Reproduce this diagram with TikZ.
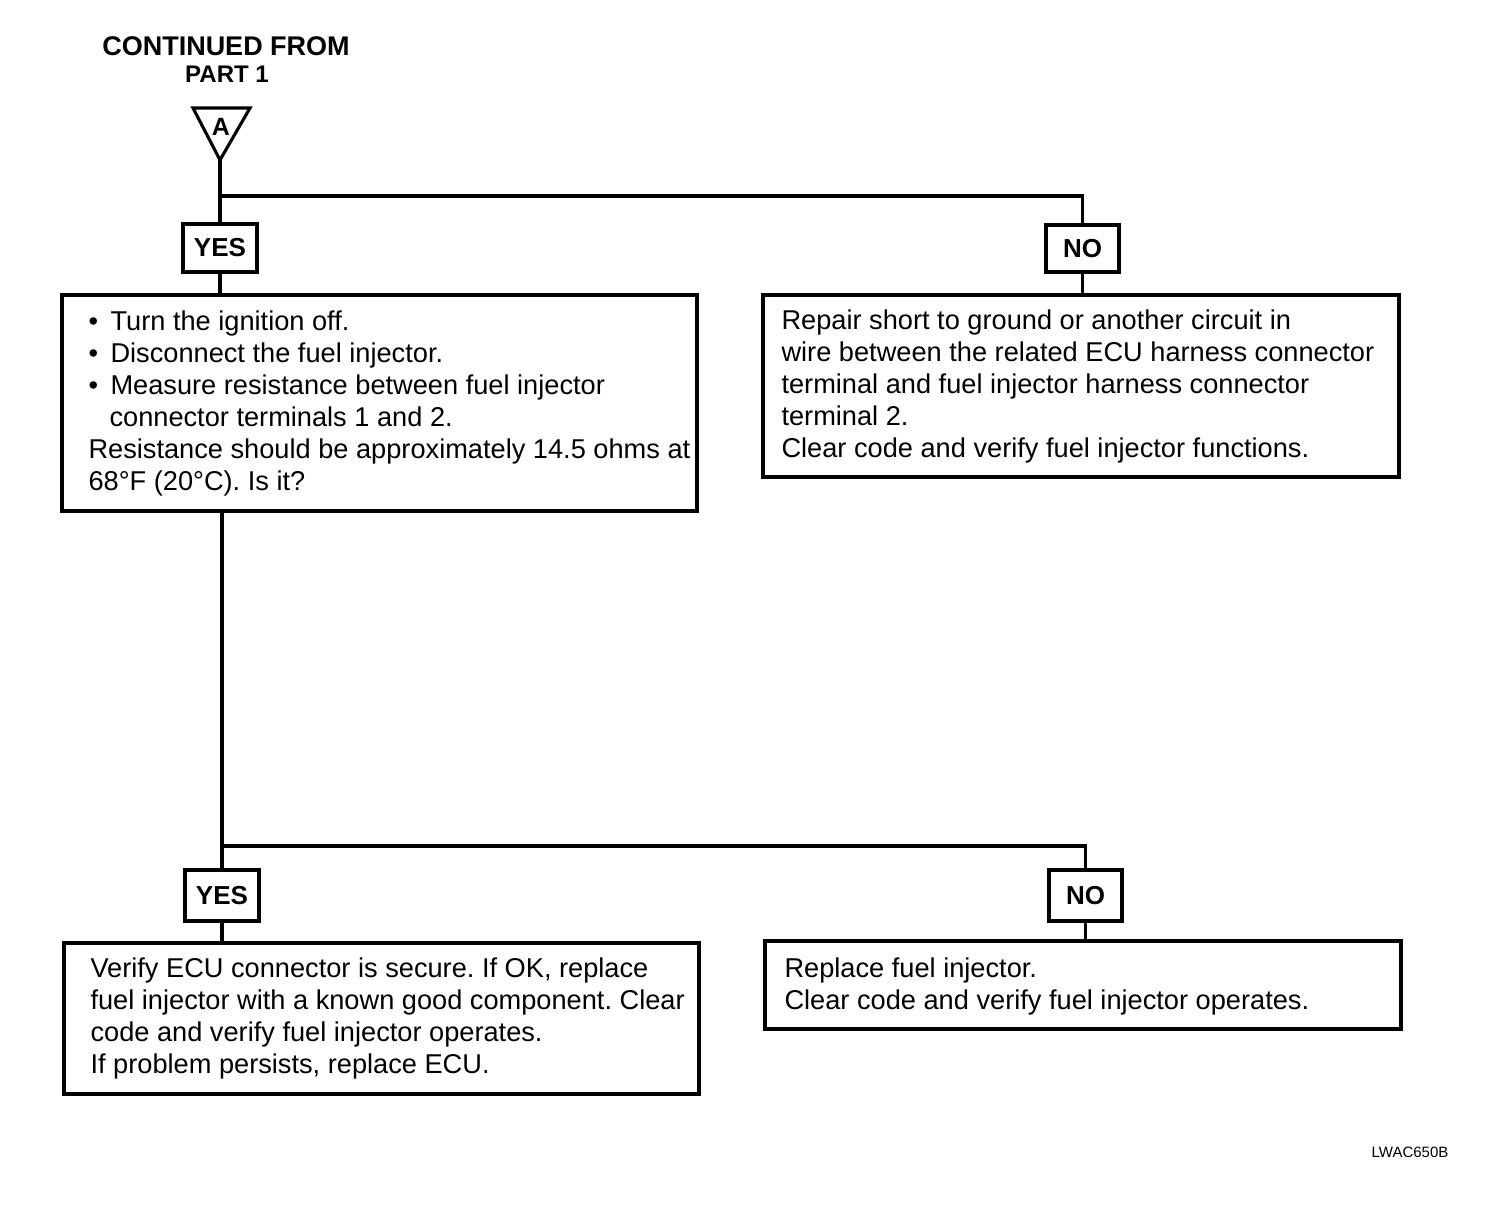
\documentclass[tikz,border=0pt]{standalone}
\usepackage{fontspec}
\setmainfont{Liberation Sans}
\frenchspacing
\begin{document}
\begin{tikzpicture}[x=1pt,y=-1pt,
  line width=3.1pt,
  box/.style={draw, rectangle, inner sep=0pt},
  tag/.style={draw, rectangle, inner sep=0pt, font=\fontsize{26}{30}\selectfont\bfseries},
  txt/.style={inner sep=0pt, align=left, anchor=west, font=\fontsize{27.2}{32}\selectfont}]
\useasboundingbox (0,0) rectangle (1504,1218);
% header
\node[inner sep=0pt, font=\fontsize{27}{32}\selectfont\bfseries] (h1) at (226,46) {CONTINUED FROM};
\node[inner sep=0pt, font=\fontsize{24}{28}\selectfont\bfseries] (h2) at (227,74) {PART 1};
% connector triangle
\draw[line join=miter] (193,108) -- (250,108) -- (220,160) -- cycle;
\node[inner sep=0pt, font=\fontsize{25}{28}\selectfont\bfseries] (tA) at (221,127) {A};
\coordinate (apex) at (220,160);
\coordinate (j1) at (220,196);
% tags
\node[tag, minimum width=74, minimum height=48] (yes1) at (220,248) {YES};
\node[tag, minimum width=73, minimum height=47] (no1) at (1082.5,248.5) {NO};
\node[tag, minimum width=74, minimum height=51] (yes2) at (222,895.5) {YES};
\node[tag, minimum width=73, minimum height=51] (no2) at (1085.5,895.5) {NO};
% boxes
\node[box, minimum width=635, minimum height=216] (b1) at (379.5,403) {};
\node[box, minimum width=636, minimum height=182] (b2) at (1081,386) {};
\node[box, minimum width=635, minimum height=151] (b3) at (381.5,1018.5) {};
\node[box, minimum width=636, minimum height=88] (b4) at (1083,985) {};
% texts
\node[txt] (t1) at (87,403) {\makebox[22pt][l]{•}Turn the ignition off.\\
\makebox[22pt][l]{•}Disconnect the fuel injector.\\
\makebox[22pt][l]{•}Measure resistance between fuel injector\\
\hspace*{21pt}connector terminals 1 and 2.\\
Resistance should be approximately 14.5 ohms at\\
68°F (20°C). Is it?};
\node[txt] (t2) at (780,386) {Repair short to ground or another circuit in\\
wire between the related ECU harness connector\\
terminal and fuel injector harness connector\\
terminal 2.\\
Clear code and verify fuel injector functions.};
\node[txt] (t3) at (89,1018.5) {Verify ECU connector is secure. If OK, replace\\
fuel injector with a known good component. Clear\\
code and verify fuel injector operates.\\
If problem persists, replace ECU.};
\node[txt] (t4) at (783,986) {Replace fuel injector.\\
Clear code and verify fuel injector operates.};
% footer label
\node[inner sep=0pt, font=\fontsize{15}{17}\selectfont] (lbl) at (1410,1152) {LWAC650B};
% connectors
\draw (apex) -- (yes1.north);
\draw (j1) -| (no1.north);
\draw (yes1.south) -- (yes1.south |- b1.north);
\draw (no1.south) -- (no1.south |- b2.north);
\coordinate (j2) at (222,846);
\draw (yes2.north |- b1.south) -- (yes2.north);
\draw (j2) -| (no2.north);
\draw (yes2.south) -- (yes2.south |- b3.north);
\draw (no2.south) -- (no2.south |- b4.north);
\end{tikzpicture}
\end{document}
